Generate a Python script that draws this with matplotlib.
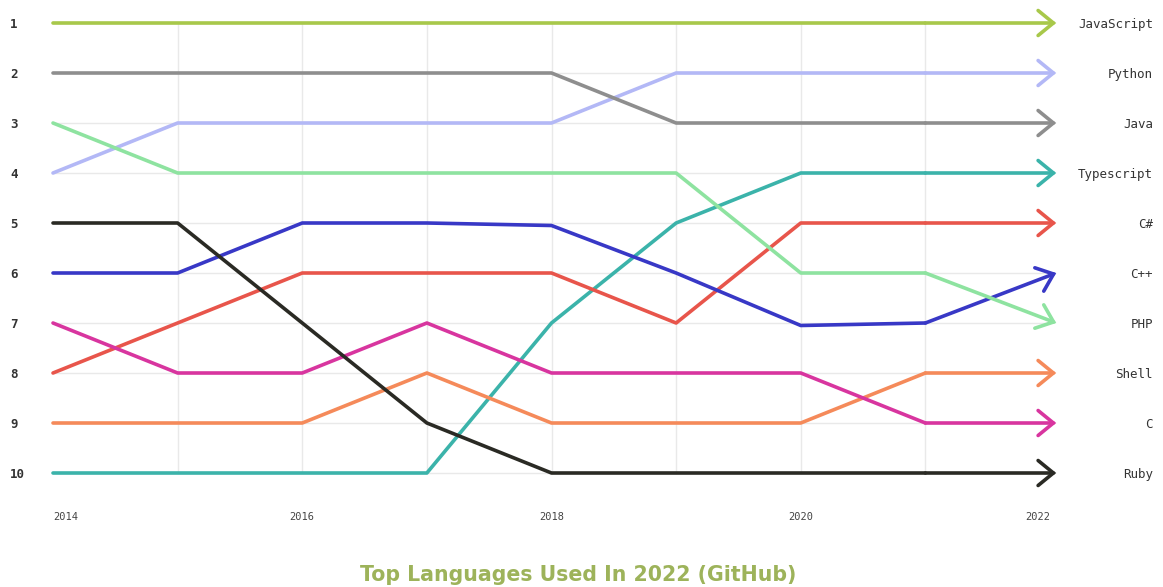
import matplotlib
matplotlib.use("Agg")
import matplotlib.pyplot as plt
import matplotlib.transforms as mtransforms

years = [2014, 2015, 2016, 2017, 2018, 2019, 2020, 2021, 2022]
year_labels = ["2014", "2016", "2018", "2020", "2022"]
languages = ["JavaScript", "Python", "Java", "Typescript", "C#", "C++", "PHP", "Shell", "C", "Ruby"]

javascript = [1, 1, 1, 1, 1, 1, 1, 1, 1]
python = [4, 3, 3, 3, 3, 2, 2, 2, 2]
java = [2, 2, 2, 2, 2, 3, 3, 3, 3]
typescript = [10, 10, 10, 10, 7, 5, 4, 4, 4]
csharp = [8, 7, 6, 6, 6, 7, 5, 5, 5]
cpp = [6, 6, 5, 5, 5.05, 6, 7.05, 7, 6]
php = [3, 4, 4, 4, 4, 4, 6, 6, 7]
shell = [9, 9, 9, 8, 9, 9, 9, 8, 8]
c_lang = [7, 8, 8, 7, 8, 8, 8, 9, 9]
ruby = [5, 5, 7, 9, 10, 10, 10, 10, 10]

series = [javascript, python, java, typescript, csharp, cpp, php, shell, c_lang, ruby]
colors = ["#a8c84a", "#b3b8f6", "#8e8e8e", "#3bb3aa", "#e8554b",
          "#3838c6", "#8ee3a0", "#f58a5a", "#d8359f", "#2a2a24"]
ranks = list(range(1, 11))

fig = plt.figure(figsize=(11.63, 5.87), dpi=100)
ax = fig.add_axes([53 / 1163, (587 - 473) / 587, 997 / 1163, 450 / 587])
ax.set_xlim(years[0], years[-1])
ax.set_ylim(10, 1)
for s in ax.spines.values():
    s.set_visible(False)
ax.set_xticks([])
ax.set_yticks([])

# grid
for r in ranks:
    ax.plot([years[0], years[-1]], [r, r], color="#e9e9e9", lw=1, zorder=0, clip_on=False)
for yv in years[1:-1]:
    ax.plot([yv, yv], [1, 10], color="#e9e9e9", lw=1, zorder=0, clip_on=False)

# lines with arrows
for i, (vals, col) in enumerate(zip(series, colors)):
    ax.plot(years[:-1], vals[:-1], color=col, lw=2.6,
            solid_capstyle="round", solid_joinstyle="round", clip_on=False, zorder=2 + i * 0.01)
    ax.annotate("", xy=(years[-1] + 0.05, vals[-1]), xytext=(years[-2], vals[-2]),
                arrowprops=dict(arrowstyle="->,head_length=1.1,head_width=0.9",
                                color=col, lw=2.6, shrinkA=0, shrinkB=0,
                                capstyle="round", joinstyle="miter"),
                annotation_clip=False, zorder=2 + i * 0.01)

# right labels
trans_r = mtransforms.blended_transform_factory(fig.transFigure, ax.transData)
for lang, vals in zip(languages, series):
    ax.text(1153 / 1163, vals[-1] + 0.03, lang, transform=trans_r, ha="right", va="center",
            fontsize=9, family="DejaVu Sans Mono", color="#333333")

# left rank labels
for r in ranks:
    ax.text(10 / 1163, r + 0.03, str(r), transform=trans_r, ha="left", va="center",
            fontsize=9, family="DejaVu Sans Mono", fontweight="bold", color="#333333")

# year labels
trans_b = mtransforms.blended_transform_factory(ax.transData, fig.transFigure)
for k, lab in enumerate(year_labels):
    ha = "left" if k == 0 else ("right" if k == len(year_labels) - 1 else "center")
    ax.text(int(lab), 1 - 517 / 587, lab, transform=trans_b, ha=ha, va="center",
            fontsize=7.5, family="DejaVu Sans Mono", color="#444444")

fig.text(578 / 1163, 1 - 575 / 587, "Top Languages Used In 2022 (GitHub)", ha="center", va="center",
         fontsize=14.8, fontweight="bold", family="DejaVu Sans", color="#9db35a")

fig.savefig("out.png", dpi=100)
